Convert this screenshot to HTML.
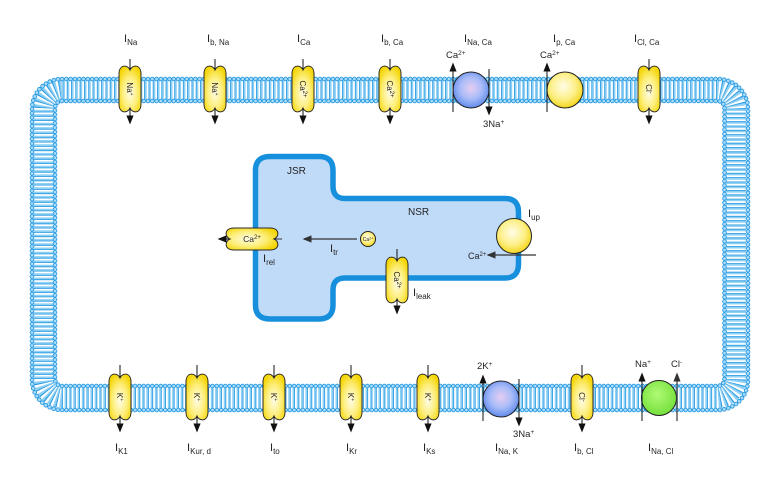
<!DOCTYPE html>
<html><head><meta charset="utf-8"><style>
html,body{margin:0;padding:0;background:#fff;}
svg{display:block;}
text{fill:#231f20;}
</style></head><body>
<svg width="775" height="493" viewBox="0 0 775 493" xmlns="http://www.w3.org/2000/svg" font-family="Liberation Sans, Arial, sans-serif">
<defs>
  <radialGradient id="gy" cx="50%" cy="58%" r="62%">
    <stop offset="0" stop-color="#fffce6"/>
    <stop offset="0.55" stop-color="#fdee7a"/>
    <stop offset="1" stop-color="#f4d400"/>
  </radialGradient>
  <radialGradient id="gyc" cx="45%" cy="40%" r="60%">
    <stop offset="0" stop-color="#fffde8"/>
    <stop offset="0.6" stop-color="#fdef86"/>
    <stop offset="1" stop-color="#f3d61e"/>
  </radialGradient>
  <radialGradient id="gb" cx="50%" cy="45%" r="60%">
    <stop offset="0" stop-color="#e6cdf2"/>
    <stop offset="0.5" stop-color="#a9bcf8"/>
    <stop offset="1" stop-color="#5080ea"/>
  </radialGradient>
  <radialGradient id="gg" cx="45%" cy="40%" r="60%">
    <stop offset="0" stop-color="#b0fa74"/>
    <stop offset="1" stop-color="#74e03c"/>
  </radialGradient>
  <marker id="ah" markerWidth="9" markerHeight="8" refX="7.5" refY="4" orient="auto" markerUnits="userSpaceOnUse">
    <path d="M0,0.4 L9,4 L0,7.6 z" fill="#111"/>
  </marker>
  <marker id="ahg" markerWidth="9" markerHeight="8" refX="7.5" refY="4" orient="auto" markerUnits="userSpaceOnUse">
    <path d="M0,0.4 L9,4 L0,7.6 z" fill="#333"/>
  </marker>
  <path id="chv" d="M0,-19 C-2,-24.5 -11,-25 -11,-15 L-11,15 C-11,25 -2,24.5 0,19 C2,24.5 11,25 11,15 L11,-15 C11,-25 2,-24.5 0,-19 Z" fill="url(#gy)" stroke="#2a2a2a" stroke-width="1"/>
</defs>

<!-- membrane tails -->
<rect x="43.5" y="90" width="692.5" height="308" rx="19" fill="none" stroke="#ffffff" stroke-width="20"/>
<rect x="43.5" y="90" width="692.5" height="308" rx="19" fill="none" stroke="#8fd0f5" stroke-width="20" stroke-dasharray="2.5 1.8"/>
<rect x="43.5" y="90" width="692.5" height="308" rx="19" fill="none" stroke="#2a9be2" stroke-width="20" stroke-dasharray="0.8 3.5"/>
<!-- heads -->
<rect x="32" y="79" width="716" height="331" rx="30" fill="none" stroke="#2a9be2" stroke-width="4.6" stroke-linecap="round" stroke-dasharray="0 4.3"/>
<rect x="32" y="79" width="716" height="331" rx="30" fill="none" stroke="#a9dbfa" stroke-width="2.8" stroke-linecap="round" stroke-dasharray="0 4.3"/>
<rect x="55" y="101" width="669.5" height="285" rx="7" fill="none" stroke="#2a9be2" stroke-width="4.6" stroke-linecap="round" stroke-dasharray="0 4.3"/>
<rect x="55" y="101" width="669.5" height="285" rx="7" fill="none" stroke="#a9dbfa" stroke-width="2.8" stroke-linecap="round" stroke-dasharray="0 4.3"/>

<!-- top labels -->
<g font-size="11">
  <text x="124" y="42">I<tspan font-size="8" dy="3">Na</tspan></text>
  <text x="207" y="42">I<tspan font-size="8" dy="3">b, Na</tspan></text>
  <text x="297" y="42">I<tspan font-size="8" dy="3">Ca</tspan></text>
  <text x="381" y="42">I<tspan font-size="8" dy="3">b, Ca</tspan></text>
  <text x="464" y="42">I<tspan font-size="8" dy="3">Na, Ca</tspan></text>
  <text x="553" y="42">I<tspan font-size="8" dy="3">p, Ca</tspan></text>
  <text x="634" y="42">I<tspan font-size="8" dy="3">Cl, Ca</tspan></text>
</g>

<!-- top channels -->
<g stroke="#111" stroke-width="1">
  <line x1="130" y1="59" x2="130" y2="72"/><line x1="130" y1="107" x2="130" y2="123" marker-end="url(#ah)"/>
  <line x1="215" y1="59" x2="215" y2="72"/><line x1="215" y1="107" x2="215" y2="123" marker-end="url(#ah)"/>
  <line x1="303" y1="59" x2="303" y2="72"/><line x1="303" y1="107" x2="303" y2="123" marker-end="url(#ah)"/>
  <line x1="390" y1="59" x2="390" y2="72"/><line x1="390" y1="107" x2="390" y2="123" marker-end="url(#ah)"/>
  <line x1="649" y1="59" x2="649" y2="72"/><line x1="649" y1="107" x2="649" y2="123" marker-end="url(#ah)"/>
</g>
<g font-size="8">
  <g transform="translate(130,89)"><use href="#chv"/><text transform="rotate(90)" text-anchor="middle" y="3">Na<tspan font-size="5" dy="-3">+</tspan></text></g>
  <g transform="translate(215,89)"><use href="#chv"/><text transform="rotate(90)" text-anchor="middle" y="3">Na<tspan font-size="5" dy="-3">+</tspan></text></g>
  <g transform="translate(303,89)"><use href="#chv"/><text transform="rotate(90)" text-anchor="middle" y="3">Ca<tspan font-size="6" dy="-3">2+</tspan></text></g>
  <g transform="translate(390,89)"><use href="#chv"/><text transform="rotate(90)" text-anchor="middle" y="3">Ca<tspan font-size="6" dy="-3">2+</tspan></text></g>
  <g transform="translate(649,89)"><use href="#chv"/><text transform="rotate(90)" text-anchor="middle" y="3">Cl<tspan font-size="6" dy="-3">-</tspan></text></g>
</g>

<!-- top pumps -->
<circle cx="471" cy="90" r="18" fill="url(#gb)" stroke="#222" stroke-width="1"/>
<circle cx="565" cy="90" r="18" fill="url(#gyc)" stroke="#222" stroke-width="1"/>
<g stroke="#111" stroke-width="1">
  <line x1="453" y1="112" x2="453" y2="64" marker-end="url(#ah)"/>
  <line x1="489" y1="69" x2="489" y2="114" marker-end="url(#ah)"/>
  <line x1="547" y1="112" x2="547" y2="64" marker-end="url(#ah)"/>
</g>
<g font-size="9.5">
  <text x="446" y="58">Ca<tspan font-size="6.5" dy="-3">2+</tspan></text>
  <text x="483" y="127">3Na<tspan font-size="6.5" dy="-3">+</tspan></text>
  <text x="540" y="58">Ca<tspan font-size="6.5" dy="-3">2+</tspan></text>
</g>

<!-- bottom channels -->
<g stroke="#111" stroke-width="1">
  <line x1="120" y1="365" x2="120" y2="380"/><line x1="120" y1="415" x2="120" y2="431" marker-end="url(#ah)"/>
  <line x1="197" y1="365" x2="197" y2="380"/><line x1="197" y1="415" x2="197" y2="431" marker-end="url(#ah)"/>
  <line x1="274" y1="365" x2="274" y2="380"/><line x1="274" y1="415" x2="274" y2="431" marker-end="url(#ah)"/>
  <line x1="351" y1="365" x2="351" y2="380"/><line x1="351" y1="415" x2="351" y2="431" marker-end="url(#ah)"/>
  <line x1="428" y1="365" x2="428" y2="380"/><line x1="428" y1="415" x2="428" y2="431" marker-end="url(#ah)"/>
  <line x1="582" y1="365" x2="582" y2="380"/><line x1="582" y1="415" x2="582" y2="431" marker-end="url(#ah)"/>
</g>
<g font-size="8">
  <g transform="translate(120,397)"><use href="#chv"/><text transform="rotate(90)" text-anchor="middle" y="3">K<tspan font-size="5" dy="-3">+</tspan></text></g>
  <g transform="translate(197,397)"><use href="#chv"/><text transform="rotate(90)" text-anchor="middle" y="3">K<tspan font-size="5" dy="-3">+</tspan></text></g>
  <g transform="translate(274,397)"><use href="#chv"/><text transform="rotate(90)" text-anchor="middle" y="3">K<tspan font-size="5" dy="-3">+</tspan></text></g>
  <g transform="translate(351,397)"><use href="#chv"/><text transform="rotate(90)" text-anchor="middle" y="3">K<tspan font-size="5" dy="-3">+</tspan></text></g>
  <g transform="translate(428,397)"><use href="#chv"/><text transform="rotate(90)" text-anchor="middle" y="3">K<tspan font-size="5" dy="-3">+</tspan></text></g>
  <g transform="translate(582,397)"><use href="#chv"/><text transform="rotate(90)" text-anchor="middle" y="3">Cl<tspan font-size="6" dy="-3">-</tspan></text></g>
</g>

<!-- bottom pumps -->
<circle cx="501" cy="399" r="18" fill="url(#gb)" stroke="#222" stroke-width="1"/>
<circle cx="659" cy="398" r="17.5" fill="url(#gg)" stroke="#222" stroke-width="1"/>
<g stroke="#111" stroke-width="1">
  <line x1="483" y1="421" x2="483" y2="376" marker-end="url(#ah)"/>
  <line x1="519" y1="379" x2="519" y2="425" marker-end="url(#ah)"/>
  <line x1="642" y1="421" x2="642" y2="374" marker-end="url(#ah)"/>
</g>
<line x1="677" y1="421" x2="677" y2="374" stroke="#444" stroke-width="1.3" marker-end="url(#ahg)"/>
<g font-size="9.5">
  <text x="477" y="369">2K<tspan font-size="6.5" dy="-3">+</tspan></text>
  <text x="513" y="437">3Na<tspan font-size="6.5" dy="-3">+</tspan></text>
  <text x="635" y="367">Na<tspan font-size="6.5" dy="-3">+</tspan></text>
  <text x="671" y="367">Cl<tspan font-size="6.5" dy="-3">-</tspan></text>
</g>

<!-- bottom labels -->
<g font-size="11">
  <text x="115" y="451">I<tspan font-size="8" dy="3">K1</tspan></text>
  <text x="187" y="451">I<tspan font-size="8" dy="3">Kur, d</tspan></text>
  <text x="270" y="451">I<tspan font-size="8" dy="3">to</tspan></text>
  <text x="346" y="451">I<tspan font-size="8" dy="3">Kr</tspan></text>
  <text x="423" y="451">I<tspan font-size="8" dy="3">Ks</tspan></text>
  <text x="495" y="451">I<tspan font-size="8" dy="3">Na, K</tspan></text>
  <text x="574" y="451">I<tspan font-size="8" dy="3">b, Cl</tspan></text>
  <text x="648" y="451">I<tspan font-size="8" dy="3">Na, Cl</tspan></text>
</g>

<!-- SR -->
<path d="M270,156.5 H319 Q333,156.5 333,170.5 V186 Q333,198.5 345,198.5 H505 Q518.5,198.5 518.5,212 V264 Q518.5,278 505,278 H345 Q333,278 333,290 V305 Q333,319 319,319 H270 Q255.5,319 255.5,305 V170.5 Q255.5,156.5 270,156.5 Z" fill="#c0dbf8" stroke="#168fdc" stroke-width="5.5"/>
<text x="287" y="174" font-size="10">JSR</text>
<text x="408" y="215" font-size="10">NSR</text>

<!-- I_up -->
<circle cx="514" cy="236" r="17.5" fill="url(#gyc)" stroke="#222" stroke-width="1"/>
<line x1="536" y1="255" x2="488" y2="255" stroke="#333" stroke-width="1.2" marker-end="url(#ahg)"/>
<text x="468" y="259" font-size="9">Ca<tspan font-size="6" dy="-3">2+</tspan></text>
<text x="528" y="217" font-size="11">I<tspan font-size="8" dy="3">up</tspan></text>

<!-- I_tr -->
<circle cx="368" cy="239" r="7.5" fill="url(#gyc)" stroke="#222" stroke-width="1"/>
<text x="368" y="241" font-size="5" text-anchor="middle">Ca<tspan font-size="3.5" dy="-1.5">2+</tspan></text>
<line x1="357" y1="239" x2="304" y2="239" stroke="#333" stroke-width="1.2" marker-end="url(#ahg)"/>
<text x="330" y="252" font-size="11">I<tspan font-size="8" dy="3">tr</tspan></text>

<!-- I_rel -->
<line x1="274" y1="239" x2="282" y2="239" stroke="#333" stroke-width="1"/>
<line x1="230" y1="239" x2="219" y2="239" stroke="#111" stroke-width="1" marker-end="url(#ah)"/>
<g transform="translate(252,239) rotate(90)"><path d="M0,-22 C-2,-27.5 -11,-28 -11,-18 L-11,18 C-11,28 -2,27.5 0,22 C2,27.5 11,28 11,18 L11,-18 C11,-28 2,-27.5 0,-22 Z" fill="url(#gy)" stroke="#2a2a2a" stroke-width="1"/></g>
<text x="252" y="242" font-size="8.5" text-anchor="middle">Ca<tspan font-size="6" dy="-3">2+</tspan></text>
<text x="263" y="262" font-size="11">I<tspan font-size="8" dy="3">rel</tspan></text>

<!-- I_leak -->
<line x1="397" y1="249" x2="397" y2="263" stroke="#111" stroke-width="1"/>
<line x1="397" y1="298" x2="397" y2="313" stroke="#111" stroke-width="1" marker-end="url(#ah)"/>
<g transform="translate(397,280)"><use href="#chv"/><text transform="rotate(90)" text-anchor="middle" y="3" font-size="8">Ca<tspan font-size="6" dy="-3">2+</tspan></text></g>
<text x="413" y="296" font-size="11">I<tspan font-size="8" dy="3">leak</tspan></text>
</svg>
</body></html>
